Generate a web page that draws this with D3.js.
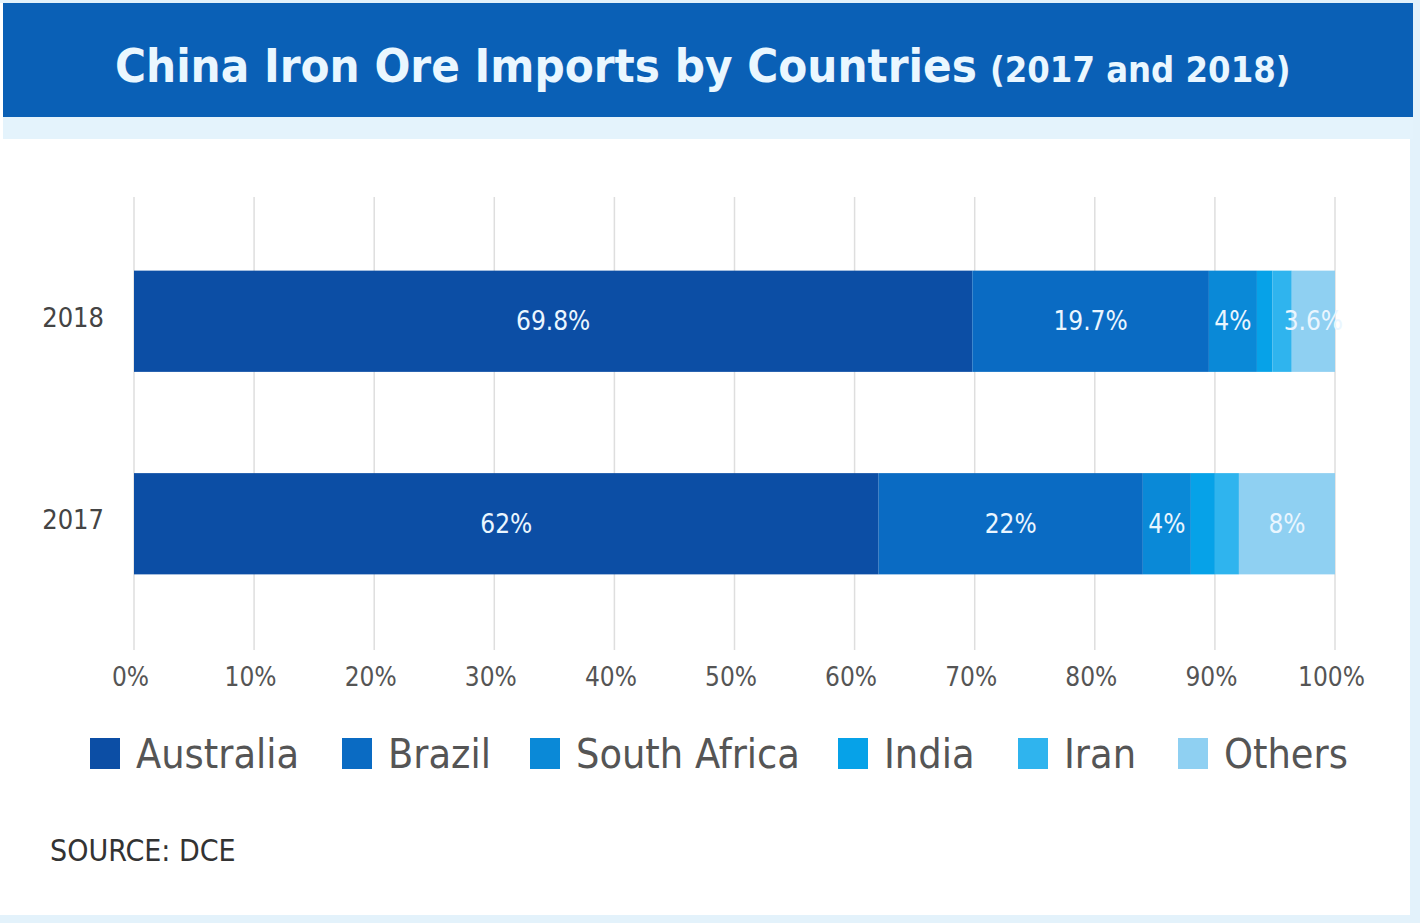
<!DOCTYPE html>
<html>
<head>
<meta charset="utf-8">
<title>China Iron Ore Imports by Countries</title>
<script src="https://cdn.jsdelivr.net/npm/d3@7"></script>
<style>
  body { margin: 0; background: #fff; }
  svg text { font-family: "DejaVu Sans Condensed", "Liberation Sans Narrow", sans-serif; }
</style>
</head>
<body>
<svg id="chart" width="1420" height="923"></svg>
<script>
// data
var years = ["2018", "2017"];
var countries = ["Australia", "Brazil", "South Africa", "India", "Iran", "Others"];
var shares2018 = [69.8, 19.7, 4, 1.3, 1.6, 3.6];
var shares2017 = [62, 22, 4, 2, 2, 8];
var labels2018 = ["69.8%", "19.7%", "4%", "", "", "3.6%"];
var labels2017 = ["62%", "22%", "4%", "", "", "8%"];
var ticks = [0, 10, 20, 30, 40, 50, 60, 70, 80, 90, 100];
var colors = ["#0c4ea5", "#0a6bc3", "#0a89d7", "#06a2e8", "#2fb4ee", "#8fd0f2"];

var svg = d3.select("#chart");

// frame, banner
svg.append("rect").attr("x", 0).attr("y", 0).attr("width", 1420).attr("height", 923).attr("fill", "#e3f2fb");
svg.append("rect").attr("x", 0).attr("y", 3).attr("width", 1410).attr("height", 912).attr("fill", "#fff");
svg.append("rect").attr("x", 3).attr("y", 3).attr("width", 1410).attr("height", 114).attr("fill", "#0a60b6");
svg.append("rect").attr("x", 3).attr("y", 117).attr("width", 1410).attr("height", 22).attr("fill", "#e4f3fc");

// title
svg.append("text").attr("x", 115).attr("y", 82)
  .attr("font-size", 47).attr("fill", "#eaf7ff").style("font-weight", "bold")
  .text("China Iron Ore Imports by Countries");
svg.append("text").attr("x", 990).attr("y", 82)
  .attr("font-size", 36).attr("fill", "#eaf7ff").style("font-weight", "bold")
  .text("(2017 and 2018)");

var x = d3.scaleLinear().domain([0, 100]).range([134, 1335]);
var y = d3.scaleBand().domain(years).range([220, 625]).paddingInner(0.5).paddingOuter(0.25);

// grid
svg.append("g").selectAll("line").data(ticks).enter().append("line")
  .attr("x1", function (d) { return x(d); }).attr("x2", function (d) { return x(d); })
  .attr("y1", 197).attr("y2", 650)
  .attr("stroke", "#dedede").attr("stroke-width", 1.5);

// x axis labels
var xAxis = d3.axisBottom(x).tickValues(ticks).tickSize(0).tickFormat(function (d) { return d + "%"; });
var gx = svg.append("g").attr("transform", "translate(0,660)").call(xAxis);
gx.select(".domain").remove();
gx.selectAll("text").attr("font-size", 26).attr("fill", "#555").attr("dy", "0.9em").attr("dx", -4)
  .style("font-family", "\"DejaVu Sans Condensed\", sans-serif");

// y axis labels
var yAxis = d3.axisLeft(y).tickSize(0).tickPadding(30);
var gy = svg.append("g").attr("transform", "translate(134,0)").call(yAxis);
gy.select(".domain").remove();
gy.selectAll("text").attr("font-size", 27).attr("fill", "#444").attr("dy", "0.2em")
  .style("font-family", "\"DejaVu Sans Condensed\", sans-serif");

// stacked bars
var rows = [
  { year: "2018", values: shares2018, labels: labels2018 },
  { year: "2017", values: shares2017, labels: labels2017 }
];
rows.forEach(function (r) {
  var segs = [];
  var acc = 0;
  r.values.forEach(function (v, i) {
    segs.push({ x0: acc, x1: acc + v, c: colors[i], label: r.labels[i] });
    acc += v;
  });
  var g = svg.append("g");
  g.selectAll("rect").data(segs).enter().append("rect")
    .attr("x", function (d) { return x(d.x0); })
    .attr("width", function (d) { return x(d.x1) - x(d.x0); })
    .attr("y", y(r.year)).attr("height", y.bandwidth())
    .attr("fill", function (d) { return d.c; });
  g.selectAll("text").data(segs.filter(function (d) { return d.label; })).enter().append("text")
    .attr("x", function (d) { return x((d.x0 + d.x1) / 2); })
    .attr("y", y(r.year) + y.bandwidth() / 2)
    .attr("dy", "0.35em").attr("text-anchor", "middle")
    .attr("font-size", 26).attr("fill", "#eaf6ff")
    .text(function (d) { return d.label; });
});

// legend
var legendX = [90, 342, 530, 838, 1018, 1178];
var lg = svg.append("g").selectAll("g").data(countries).enter().append("g")
  .attr("transform", function (d, i) { return "translate(" + legendX[i] + ",738)"; });
lg.append("rect").attr("width", 30).attr("height", 31).attr("fill", function (d, i) { return colors[i]; });
lg.append("text").attr("x", 46).attr("y", 16).attr("dy", "0.35em")
  .attr("font-size", 41).attr("fill", "#555").text(function (d) { return d; });

svg.append("text").attr("x", 50).attr("y", 861).attr("font-size", 30).attr("fill", "#333").text("SOURCE: DCE");
</script>
</body>
</html>
